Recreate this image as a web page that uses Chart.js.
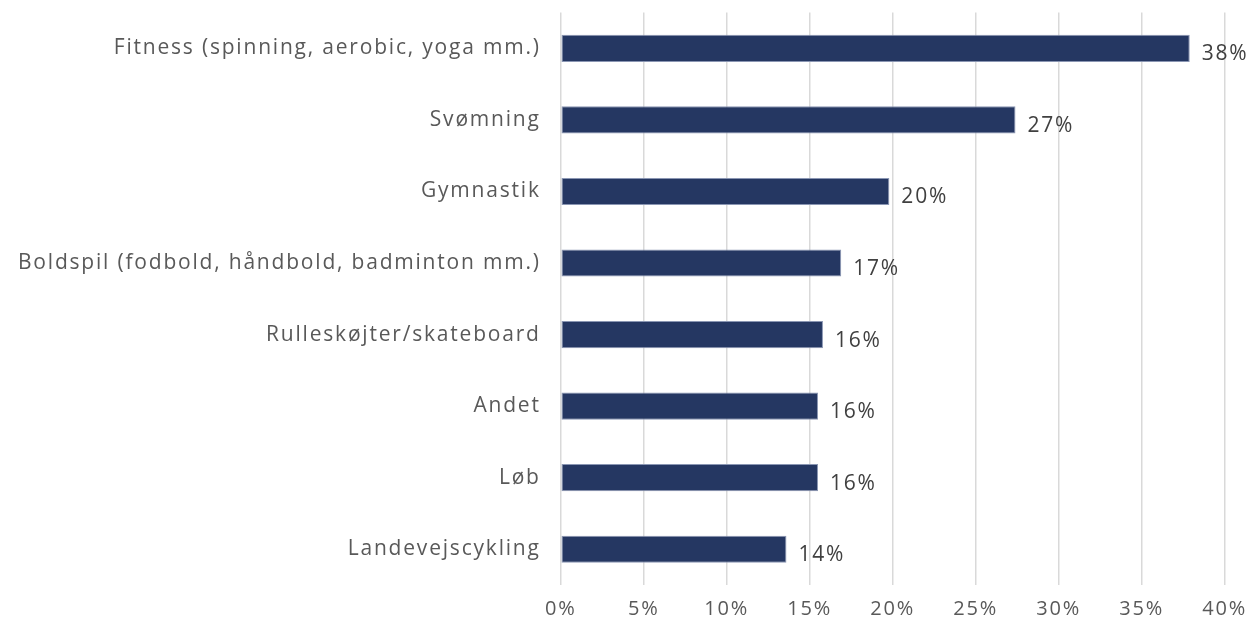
<!DOCTYPE html>
<html>
<head>
<meta charset="utf-8">
<script src="https://cdn.jsdelivr.net/npm/chart.js@4"></script>
<style>
  html, body { margin: 0; padding: 0; background: #fff; }
  #wrap { width: 1259px; height: 621px; }
</style>
</head>
<body>
<div id="wrap"><canvas id="chart" width="1259" height="621"></canvas></div>
<script>
var categories = [
  'Fitness (spinning, aerobic, yoga mm.)',
  'Svømning',
  'Gymnastik',
  'Boldspil (fodbold, håndbold, badminton mm.)',
  'Rulleskøjter/skateboard',
  'Andet',
  'Løb',
  'Landevejscykling'
];
var shares = [37.9, 27.4, 19.8, 16.9, 15.8, 15.5, 15.5, 13.6];
var xTicks = [0, 5, 10, 15, 20, 25, 30, 35, 40];

var textColor = '#595959';
var fontFamily = '"Open Sans", Lato, sans-serif';

// the source font is wide and loosely set, so space the letters a little
var spacing = {
  id: 'spacing',
  beforeLayout: function (chart) { chart.ctx.letterSpacing = '1.8px'; },
  beforeDraw: function (chart) { chart.ctx.letterSpacing = '1.8px'; }
};

// value labels just right of each bar
var valueLabels = {
  id: 'valueLabels',
  afterDatasetsDraw: function (chart) {
    var ctx = chart.ctx;
    var meta = chart.getDatasetMeta(0);
    ctx.save();
    ctx.fillStyle = '#404040';
    ctx.font = '21px ' + fontFamily;
    ctx.textAlign = 'left';
    ctx.textBaseline = 'middle';
    meta.data.forEach(function (bar, i) {
      ctx.fillText(Math.round(shares[i]) + '%', bar.x + 12, bar.y + 6);
    });
    ctx.restore();
  }
};

new Chart(document.getElementById('chart').getContext('2d'), {
  type: 'bar',
  data: {
    labels: categories,
    datasets: [{
      data: shares,
      backgroundColor: '#253762',
      borderColor: '#8a96b3',
      borderWidth: 1,
      borderSkipped: false,
      categoryPercentage: 1,
      barPercentage: 0.38
    }]
  },
  options: {
    indexAxis: 'y',
    responsive: false,
    animation: false,
    layout: { padding: { top: 4, right: 10, left: 18, bottom: -12 } },
    plugins: {
      legend: { display: false },
      tooltip: { enabled: false }
    },
    scales: {
      x: {
        min: 0,
        max: 40,
        afterBuildTicks: function (axis) {
          axis.ticks = xTicks.map(function (v) { return { value: v }; });
        },
        grid: { color: '#d9d9d9', lineWidth: 1.5, drawTicks: false },
        border: { display: false },
        ticks: {
          color: textColor,
          padding: 12,
          font: { size: 20, family: fontFamily },
          callback: function (v) { return v + '%'; }
        }
      },
      y: {
        grid: { color: 'rgba(0,0,0,0)', drawOnChartArea: false, drawTicks: true, tickLength: 20 },
        border: { display: false },
        ticks: {
          color: textColor,
          padding: 0,
          font: { size: 21, family: fontFamily }
        }
      }
    }
  },
  plugins: [spacing, valueLabels]
});
</script>
</body>
</html>
